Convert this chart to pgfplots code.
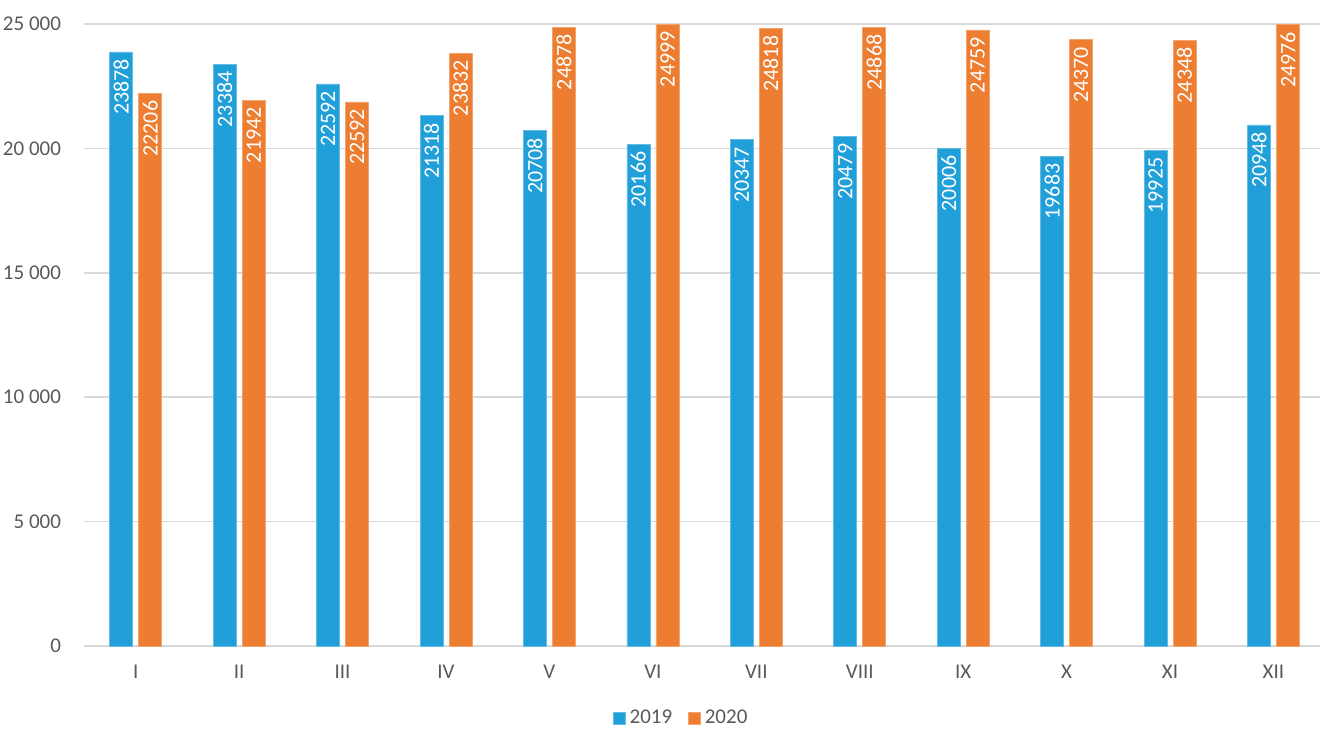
\documentclass[border=0pt]{standalone}
\usepackage{pgfplots}
\pgfplotsset{compat=1.18}
\usepackage{fontspec}
\setmainfont{Carlito}
\definecolor{cblue}{HTML}{209FD9}
\definecolor{corange}{HTML}{ED7D31}
\definecolor{tgray}{HTML}{595959}
\definecolor{ggray}{HTML}{D9D9D9}
\begin{document}
\fontsize{10}{12}\selectfont
\begin{tikzpicture}
\begin{axis}[
  scale only axis, width=618pt, height=311pt,
  ybar=3pt, bar width=11.5pt,
  xmin=-0.5, xmax=11.45,
  ymin=0, ymax=25000,
  xtick={0,...,11},
  xticklabels={I,II,III,IV,V,VI,VII,VIII,IX,X,XI,XII},
  ytick={0,5000,10000,15000,20000,25000},
  /pgf/number format/assume math mode=true,
  /pgf/number format/1000 sep={\ },
  scaled y ticks=false,
  ymajorgrids, grid style={ggray, line width=0.8pt},
  axis x line*=bottom, axis y line*=left,
  x axis line style={ggray, line width=0.8pt, -},
  y axis line style={draw=none},
  major tick length=0pt,
  tick label style={text=tgray, font=\fontsize{10.5}{12}\selectfont},
  xticklabel style={yshift=-6pt},
  yticklabel style={xshift=-8pt},
  point meta=explicit symbolic,
  nodes near coords,
  every node near coord/.append style={rotate=90, anchor=east, text=white, font=\fontsize{11}{12}\selectfont, inner sep=0pt, xshift=-3.5pt, yshift=0pt},
  legend style={at={(axis description cs:0.484,-0.1158)}, anchor=center, draw=none, legend columns=2, font=\fontsize{10.5}{12}\selectfont, text=tgray, /tikz/every even column/.append style={column sep=6pt}},
  legend image code/.code={\fill[#1] (0pt,-3pt) rectangle (6pt,3pt);},
]
\addplot[fill=cblue, draw=cblue!70!white, line width=0.3pt] table[x=x, y=y, meta=m] {
x y m
0 23878 23878
1 23384 23384
2 22592 22592
3 21318 21318
4 20708 20708
5 20166 20166
6 20347 20347
7 20479 20479
8 20006 20006
9 19683 19683
10 19925 19925
11 20948 20948
};
\addplot[fill=corange, draw=corange!70!white, line width=0.3pt] table[x=x, y=y, meta=m] {
x y m
0 22206 22206
1 21942 21942
2 21870 22592
3 23832 23832
4 24878 24878
5 24999 24999
6 24818 24818
7 24868 24868
8 24759 24759
9 24370 24370
10 24348 24348
11 24976 24976
};
\legend{2019,2020}
\end{axis}
\pgfresetboundingbox
\path[use as bounding box] (-42pt,-41pt) rectangle (618.5pt,323pt);
\end{tikzpicture}
\end{document}
